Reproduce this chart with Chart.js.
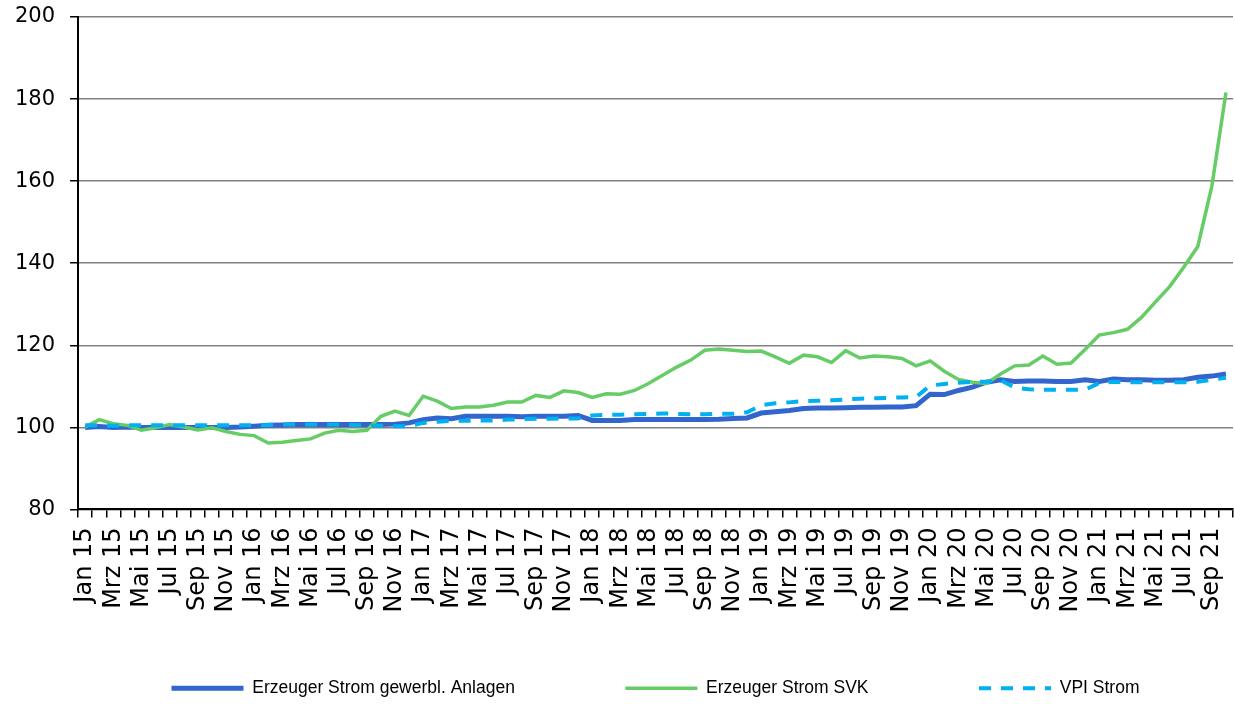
<!DOCTYPE html>
<html>
<head>
<meta charset="utf-8">
<script src="https://cdn.jsdelivr.net/npm/chart.js@4"></script>
<style>
  html, body { margin: 0; padding: 0; background: #fff; }
  #wrap { width: 1235px; height: 704px; }
</style>
</head>
<body>
<div id="wrap"><canvas id="myChart"></canvas></div>
<script>
const monthNames = ["Jan", "Feb", "Mrz", "Apr", "Mai", "Jun", "Jul", "Aug", "Sep", "Okt", "Nov", "Dez"];
const years = ["15", "16", "17", "18", "19", "20", "21"];

// Jan 15 .. Okt 21
const labels = [];
for (let y = 0; y < years.length; y++) {
  for (let m = 0; m < 12; m++) {
    if (y === 6 && m > 9) break;
    labels.push(monthNames[m] + " " + years[y]);
  }
}

const gewerbl = [
  100.0, 100.2, 100.0, 100.1, 100.0, 100.0, 100.0, 100.0, 100.0, 100.0, 100.0, 100.1,
  100.3, 100.5, 100.6, 100.7, 100.7, 100.7, 100.7, 100.7, 100.7, 100.7, 100.8, 101.1,
  101.9, 102.3, 102.1, 102.7, 102.7, 102.7, 102.7, 102.6, 102.7, 102.7, 102.7, 102.9,
  101.7, 101.7, 101.7, 101.9, 101.9, 101.9, 101.9, 101.9, 101.9, 102.0, 102.2, 102.3,
  103.5, 103.8, 104.1, 104.6, 104.7, 104.7, 104.8, 104.9, 104.9, 105.0, 105.0, 105.3,
  108.1, 108.0, 109.0, 109.8, 111.0, 111.6, 111.2, 111.3, 111.3, 111.2, 111.2, 111.6,
  111.2, 111.8, 111.6, 111.6, 111.5, 111.5, 111.6, 112.2, 112.5, 113.0
];

const svk = [
  100.1, 101.9, 100.9, 100.5, 99.3, 99.9, 100.7, 100.1, 99.4, 99.9, 99.0, 98.3,
  98.0, 96.2, 96.4, 96.8, 97.2, 98.6, 99.3, 99.0, 99.3, 102.7, 104.0, 102.9,
  107.6, 106.4, 104.6, 105.0, 105.0, 105.4, 106.2, 106.2, 107.8, 107.3, 108.9, 108.5,
  107.3, 108.2, 108.1, 109.0, 110.7, 112.7, 114.7, 116.4, 118.8, 119.1, 118.8, 118.5,
  118.6, 117.2, 115.6, 117.6, 117.2, 115.8, 118.7, 116.9, 117.4, 117.2, 116.8, 115.0,
  116.2, 113.7, 111.7, 111.0, 110.7, 113.0, 115.0, 115.2, 117.4, 115.4, 115.7, 119.0,
  122.5, 123.1, 123.9, 126.8, 130.6, 134.3, 139.0, 144.1, 158.8, 181.6
];

const vpi = [
  100.5, 100.5, 100.4, 100.5, 100.5, 100.5, 100.5, 100.5, 100.5, 100.5, 100.5, 100.5,
  100.5, 100.6, 100.7, 100.7, 100.7, 100.7, 100.7, 100.6, 100.5, 100.4, 100.3, 100.3,
  101.1, 101.4, 101.6, 101.6, 101.7, 101.7, 101.9, 102.0, 102.1, 102.1, 102.2, 102.2,
  102.9, 103.1, 103.1, 103.2, 103.3, 103.4, 103.3, 103.2, 103.2, 103.3, 103.3, 103.7,
  105.4, 105.9, 106.1, 106.4, 106.5, 106.6, 106.8, 107.0, 107.1, 107.2, 107.3, 107.4,
  110.2, 110.6, 110.9, 111.1, 111.1, 111.5, 109.7, 109.3, 109.2, 109.2, 109.2, 109.2,
  110.8, 111.1, 111.0, 111.0, 111.0, 111.0, 111.0, 111.1, 111.6, 112.1
];

const yTicks = [80, 100, 120, 140, 160, 180, 200];

const ctx = document.getElementById("myChart");
Chart.defaults.font.family = "'DejaVu Sans', sans-serif";
Chart.defaults.color = "#000";

// nudge the legend row a bit to the right, like in the original
const legendShift = {
  id: "legendShift",
  afterLayout(chart) {
    chart.legend.left += 39;
    chart.legend.right += 39;
  },
};

new Chart(ctx, {
  type: "line",
  data: {
    labels: labels,
    datasets: [
      {
        label: "Erzeuger Strom gewerbl. Anlagen",
        data: gewerbl,
        borderColor: "#3366cc",
        backgroundColor: "#3366cc",
        borderWidth: 5,
        pointRadius: 0,
        tension: 0,
        order: 3,
      },
      {
        label: "Erzeuger Strom SVK",
        data: svk,
        borderColor: "#66cc66",
        backgroundColor: "#66cc66",
        borderWidth: 3.5,
        pointRadius: 0,
        tension: 0,
        order: 2,
      },
      {
        label: "VPI Strom",
        data: vpi,
        borderColor: "#00b0f0",
        backgroundColor: "#00b0f0",
        borderWidth: 4,
        borderDash: [12, 10],
        pointRadius: 0,
        tension: 0,
        order: 1,
      },
    ],
  },
  plugins: [legendShift],
  options: {
    responsive: true,
    maintainAspectRatio: false,
    animation: false,
    layout: { padding: { top: 17, right: 2, left: 0, bottom: -3 } },
    plugins: {
      tooltip: { enabled: false },
      legend: {
        position: "bottom",
        labels: {
          boxWidth: 72,
          boxHeight: 0,
          padding: 57,
          font: { family: "'Liberation Sans', Arial, sans-serif", size: 17.5 },
          sort: (a, b) => a.datasetIndex - b.datasetIndex,
          generateLabels: function (chart) {
            const items = Chart.defaults.plugins.legend.labels.generateLabels(chart);
            items.forEach((it) => {
              it.fillStyle = it.strokeStyle;
              if (it.datasetIndex < 2) it.text = it.text + "           ";
            });
            return items;
          },
        },
      },
    },
    scales: {
      x: {
        offset: true,
        afterFit: function (scale) {
          scale.paddingRight = 0;
          scale.paddingLeft = 0;
        },
        grid: {
          offset: true,
          drawOnChartArea: false,
          drawTicks: true,
          tickLength: 8,
          color: "#000",
          lineWidth: 1.5,
        },
        border: { color: "#000", width: 2 },
        ticks: {
          autoSkip: false,
          maxRotation: 90,
          minRotation: 90,
          padding: 10,
          font: { size: 24 },
          callback: function (value, index) {
            return index % 2 === 0 ? labels[index] : "";
          },
        },
      },
      y: {
        min: 80,
        max: 200,
        afterBuildTicks: function (axis) {
          axis.ticks = yTicks.map((v) => ({ value: v }));
        },
        afterFit: function (scale) {
          scale.paddingTop = 0;
          scale.paddingBottom = 0;
        },
        grid: {
          color: "#808080",
          lineWidth: 1.5,
          tickLength: 8,
          tickColor: "#000",
        },
        border: { color: "#000", width: 2 },
        ticks: { font: { size: 21 }, padding: 15 },
      },
    },
  },
});
</script>
</body>
</html>
